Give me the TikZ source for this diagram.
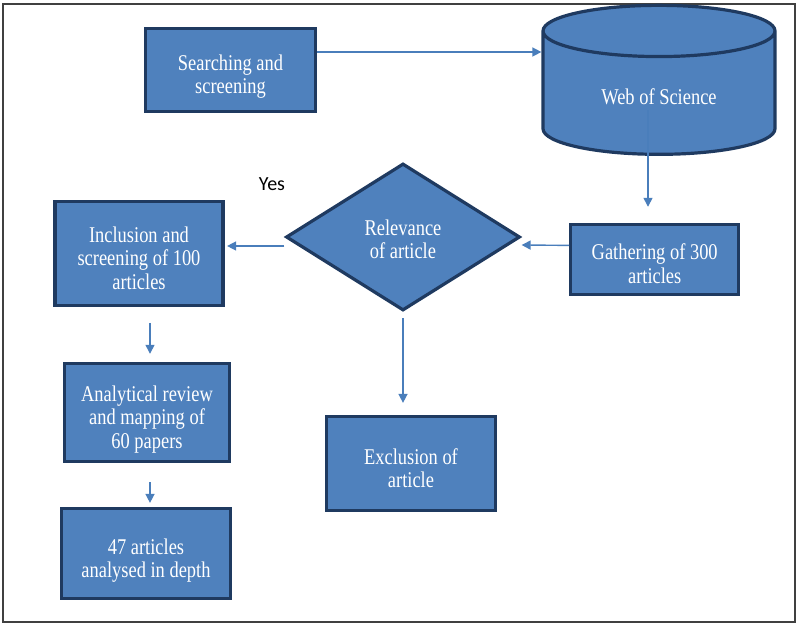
\documentclass[tikz,border=0pt]{standalone}
\usepackage{fontspec}
\setmainfont{Liberation Serif}[FakeStretch=0.82]
\newfontfamily\yesfont{Carlito}
\usepackage{tikz}
\usetikzlibrary{shapes.geometric,arrows.meta}

\definecolor{boxblue}{HTML}{4F81BD}
\definecolor{boxedge}{HTML}{1F3A60}
\definecolor{arrowblue}{HTML}{4A7EBB}
\definecolor{framegray}{HTML}{404040}

\begin{document}
\begin{tikzpicture}[
		x=1pt,y=1pt,
		block/.style={draw=boxedge,line width=3.2pt,fill=boxblue,text=white,align=center,
			font=\fontsize{22.5}{23.5}\selectfont,text depth=0pt},
		twolines/.style={text height=48pt},
		threelines/.style={text height=71.5pt},
		store/.style={block,cylinder,shape border rotate=90,shape aspect=0.42},
		check/.style={block,diamond,aspect=1.6,inner sep=0pt,text height=44pt},
		flow/.style={draw=arrowblue,line width=1.4pt},
		>={Triangle[length=9pt,width=9pt]}
		]
		\useasboundingbox (0,0) rectangle (800,627);
		\draw[framegray,line width=2.4pt] (3,5) rectangle (795,623);

		\path (230.5,557) node[block,twolines,minimum width=170,minimum height=83] (search) {Searching and\\screening}
		 ++(428.5,-26.5) node[store,minimum width=232,minimum height=149] (wos) {Web of Science}
		 ++(-4.3,-162.9) node[block,twolines,minimum width=168,minimum height=70] (gather) {Gathering of 300\\articles};

		\path (403,390) node[check,minimum width=234,minimum height=147] (rel) {Relevance\\of article}
		 ++(8,-226.5) node[block,twolines,minimum width=169,minimum height=94] (excl) {Exclusion of\\article};

		\path (139,373.7) node[block,threelines,minimum width=168,minimum height=104] (incl) {Inclusion and\\screening of 100\\articles}
		 ++(8,-159.1) node[block,threelines,minimum width=165,minimum height=98] (anal) {Analytical review\\and mapping of\\60 papers}
		 ++(-1,-141.1) node[block,twolines,minimum width=169,minimum height=90] (depth) {47 articles\\analysed in depth};

		\node[font=\yesfont\fontsize{20}{22}\selectfont] (yes) at (272,443) {Yes};

		\draw[flow,->] ([yshift=18]search.east) -- ([yshift=18]search.east -| wos.west);
		\draw[flow,->,shorten >=16pt] ([xshift=-11,yshift=-14]wos.center) -- ([xshift=-6.7]gather.north);
		\draw[flow,->] ([yshift=14]gather.west) -- ([yshift=-8]rel.east);
		\draw[flow,->,shorten >=2.5pt] ([yshift=-9]rel.west) -- ([yshift=-9]rel.west -| incl.east);
		\draw[flow,->,shorten <=6pt,shorten >=12pt] (rel.south) -- (rel.south |- excl.north);
		\draw[flow,->,shorten <=16pt,shorten >=8pt] ([xshift=3]anal.north |- incl.south) -- ([xshift=3]anal.north);
		\draw[flow,->,shorten <=19pt,shorten >=4pt] ([xshift=3]anal.south) -- ([xshift=3]anal.south |- depth.north);

	\end{tikzpicture}
\end{document}
